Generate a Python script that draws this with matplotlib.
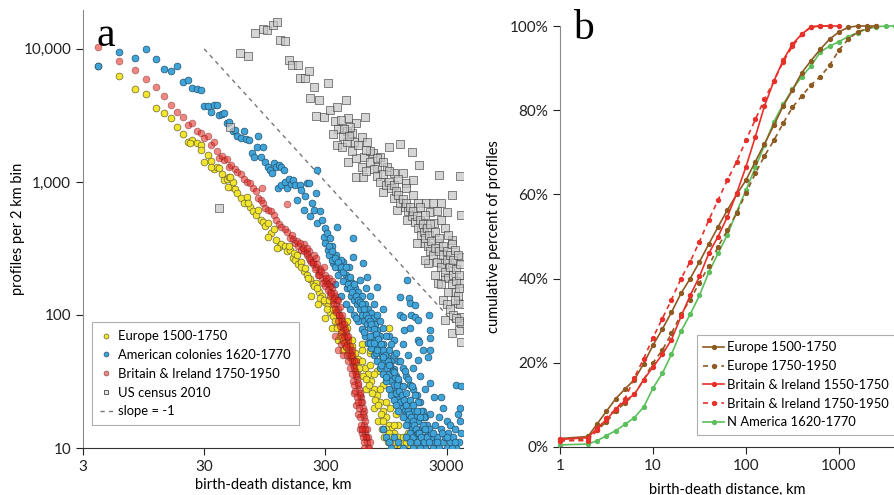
import matplotlib.pyplot as plt
from matplotlib.lines import Line2D
from matplotlib.ticker import FixedLocator, FixedFormatter, NullLocator

plt.rcParams['font.family'] = ['Lato', 'DejaVu Sans']

# ---- panel a: profiles per 2 km bin ----
eu_x = [4, 6, 8, 10, 12, 14, 16, 18, 20, 22, 24, 26, 28, 30, 32, 34, 36, 38, 40, 42,
        44, 46, 48, 50, 52, 54, 56, 60, 64, 68, 72, 76, 80, 84, 88, 92, 96, 100, 106, 112,
        118, 124, 130, 138, 146, 154, 162, 170, 180, 190, 200, 212, 224, 236, 250, 264, 280, 296, 314, 330,
        350, 370, 390, 410, 430, 450, 470, 500, 530, 560, 600, 640, 680, 720, 760, 800, 850, 900, 950, 1000,
        1050, 1100, 1200, 1300, 1400, 1500, 1600, 1800, 600, 700, 800, 900, 1000, 760, 820, 880, 920, 980, 1100, 1250,
        1350, 1450, 1700, 650, 550, 480, 420, 380, 340, 300, 260, 230, 700, 1030, 1150, 1200, 1300, 1900, 2000, 28,
        23, 34, 49, 47, 69, 101, 120]
eu_y = [7500, 6300, 5000, 4600, 3600, 3300, 3000, 2600, 2300, 2000, 2070, 1970, 1900, 1400, 1600, 1440, 1250, 1300, 1270, 1150,
        1030, 1050, 1090, 910, 1000, 880, 820, 760, 700, 770, 650, 600, 565, 620, 520, 500, 470, 490, 415, 440,
        366, 324, 340, 330, 300, 310, 270, 260, 240, 250, 215, 200, 185, 170, 175, 150, 140, 125, 118, 105,
        98, 88, 92, 75, 70, 80, 62, 58, 52, 47, 45, 40, 36, 32, 28, 25, 22, 19, 17, 15,
        14, 13, 12, 11, 11, 10, 11, 10, 60, 52, 38, 30, 80, 20, 16, 14, 12, 11, 10, 10,
        12, 13, 10, 28, 38, 48, 55, 65, 80, 95, 120, 140, 55, 20, 18, 15, 12, 11, 10, 1740,
        1950, 1300, 1090, 910, 700, 385, 320]
eu_x2 = [150, 165, 175, 190, 205, 215, 240, 255, 270, 290, 310, 320, 345, 360, 375, 395, 420, 440, 460, 490,
         520, 540, 570, 610, 650, 690, 730, 770, 810, 860, 900, 950, 1000, 1050, 1150, 1250, 700, 750, 850, 950,
         1100, 600, 500, 450]
eu_y2 = [330, 290, 280, 230, 225, 190, 165, 160, 135, 130, 110, 130, 110, 90, 80, 70, 65, 58, 55, 50,
         45, 42, 40, 35, 33, 30, 26, 23, 21, 18, 16, 14, 13, 12, 11, 10, 42, 36, 28, 22,
         15, 55, 65, 90]

am_x = [4, 6, 8, 10, 12, 14, 16, 18, 20, 22, 24, 26, 28, 30, 32, 34, 36, 38, 40, 42,
        44, 46, 48, 52, 54, 56, 60, 64, 66, 70, 74, 78, 82, 84, 88, 92, 96, 100, 104, 108,
        112, 118, 124, 130, 136, 122, 128, 140, 145, 150, 156, 163, 170, 176, 186, 190, 198, 205, 213, 218,
        225, 232, 241, 250, 258, 258, 270, 280, 290, 300, 310, 318, 330, 340, 350, 365, 377, 390, 400, 420,
        440, 460, 480, 500, 510, 510, 530, 560, 584, 600, 613, 640, 667, 680, 710, 740, 770, 807, 807, 850,
        900, 975, 1000, 1050, 1100, 1150, 1200, 1250, 1250, 1250, 1300, 1340, 1420, 1420, 1470, 1500, 1530, 1640, 1640, 1640,
        1740, 1740, 1740, 1770, 1830, 2100, 2100, 2130, 2180, 2180, 2200, 2200, 2200, 2350, 2680, 3000, 3380, 3600, 3700, 3920,
        3920, 320, 340, 360, 380, 400, 420, 450, 470, 490, 520, 550, 580, 600, 630, 660, 700, 730, 760, 800,
        840, 880, 920, 960, 1000, 1050, 1100, 1150, 1200, 1250, 1300, 1350, 1400, 1450, 1500, 1550, 1600, 1650, 1700, 1750,
        1800, 1900, 2000, 480, 520, 560, 600, 640, 680, 720, 760, 800, 850, 900, 950, 1000, 1050, 1100, 1150,
        1200, 1300, 1400, 1500, 1600, 1700, 1800, 900, 950, 1000, 1050, 1100, 1200, 1300, 1400, 1500, 1600, 1700, 1900, 2000,
        2100, 2200, 2300, 2400, 2500, 2600, 2700, 2800, 2900, 3000, 3100, 3200, 3400, 3600, 3800, 2400, 2600, 2800, 3200, 3500,
        3900, 3900, 1100, 1200, 1300, 1400, 1500, 1600, 1700, 1800, 1900, 2000, 1300, 1450, 1600, 1800, 2000, 1000, 1100, 900,
        750, 700, 650, 900, 1500, 1900, 360, 400, 440, 540, 620, 700, 780, 860, 950, 1150, 1350, 1550, 1750, 1950,
        2250, 2500, 2750, 3050, 3300, 3550]
am_y = [7500, 9500, 8600, 10000, 8400, 7100, 6800, 7400, 5600, 5800, 5100, 5000, 4900, 3700, 3750, 3350, 3800, 3770, 3160, 3230,
        3300, 2750, 2800, 2400, 2450, 2200, 2150, 2400, 2100, 2050, 1650, 1550, 1830, 2200, 1550, 1830, 1400, 1300, 1230, 1170,
        1390, 1300, 1330, 1300, 1230, 900, 950, 1000, 900, 1050, 960, 1030, 950, 730, 950, 870, 620, 780, 980, 980,
        550, 700, 620, 820, 1230, 490, 600, 520, 385, 450, 410, 307, 380, 330, 246, 280, 460, 230, 218, 250,
        200, 190, 193, 175, 272, 380, 160, 150, 183, 140, 246, 120, 193, 110, 103, 95, 85, 162, 77, 70,
        60, 48, 55, 45, 39, 35, 32, 29, 136, 100, 97, 77, 22, 183, 134, 123, 100, 119, 97, 17,
        92, 65, 46, 63, 14, 48, 11, 100, 77, 67, 55, 31, 18, 24, 24, 16, 11, 30, 18, 29,
        13, 280, 260, 230, 200, 260, 180, 160, 230, 140, 130, 120, 110, 100, 90, 85, 80, 70, 65, 60,
        55, 50, 45, 40, 36, 32, 30, 27, 24, 22, 20, 19, 18, 16, 15, 14, 13, 12, 12, 11,
        11, 10, 10, 110, 100, 90, 78, 70, 62, 56, 50, 45, 40, 36, 32, 28, 25, 23, 21,
        19, 17, 15, 13, 12, 11, 10, 14, 12, 11, 10, 12, 11, 10, 12, 11, 10, 13, 12, 11,
        13, 12, 10, 11, 12, 10, 14, 11, 12, 10, 13, 11, 12, 10, 11, 15, 17, 20, 15, 14,
        16, 20, 50, 45, 40, 35, 30, 28, 25, 22, 19, 17, 60, 50, 40, 35, 28, 70, 65, 80,
        120, 140, 160, 110, 80, 55, 170, 140, 120, 95, 75, 62, 52, 42, 34, 26, 22, 19, 16, 14,
        12, 11, 13, 12, 10, 11]
am_x2 = [300, 320, 340, 360, 380, 400, 420, 440, 460, 480, 500, 520, 540, 560, 580, 600, 620, 650, 680, 700,
         720, 750, 780, 820, 860, 900, 940, 980, 1020, 1080, 1120, 1180, 1220, 1280, 1330, 1380, 1430, 1480, 1530, 1580,
         1630, 1680, 1730, 1780, 1850, 1950, 2050, 2150, 2250, 800, 850, 950, 1050, 1150, 1250, 1350, 1450, 1550, 1650, 1750,
         1850, 1950, 2050, 2150, 2300, 700, 750, 800, 900, 1000, 1100, 1200, 1300, 1400, 1500, 1600, 1700, 1800, 1900, 2000]
am_y2 = [350, 330, 300, 270, 250, 230, 210, 230, 170, 160, 150, 170, 140, 130, 125, 120, 110, 100, 95, 90,
         85, 78, 72, 66, 60, 55, 50, 45, 42, 38, 34, 30, 27, 25, 23, 21, 19, 18, 17, 16,
         15, 14, 13, 13, 12, 11, 12, 11, 13, 100, 90, 70, 60, 52, 45, 38, 33, 29, 25, 22,
         19, 17, 15, 14, 13, 70, 62, 55, 48, 42, 37, 33, 29, 26, 23, 21, 19, 17, 15, 14]

bi_x = [4, 6, 8, 10, 12, 14, 16, 18, 20, 22, 24, 26, 28, 30, 32, 34, 36, 38, 40, 42,
        44, 46, 48, 50, 54, 56, 60, 64, 68, 72, 76, 80, 84, 88, 92, 96, 100, 106, 112, 118,
        124, 130, 138, 146, 154, 162, 170, 180, 190, 200, 212, 224, 236, 250, 264, 280, 296, 314, 330, 350,
        370, 390, 410, 430, 450, 470, 490, 510, 530, 550, 570, 590, 610, 620, 630, 640, 650, 660, 670, 200,
        220, 240, 260, 300, 320, 340, 360, 380, 400, 420, 440, 460, 480, 500, 520, 540, 560, 580, 600, 620,
        640, 660, 680, 700, 600, 580, 560, 540, 520, 420, 400, 380, 360, 145, 90, 230, 270, 310, 330, 355,
        375, 395, 415, 435, 455, 475, 495, 515, 535, 555, 575, 595, 615, 635, 655, 690]
bi_y = [10300, 8100, 6900, 5900, 5200, 4400, 3800, 3350, 3050, 2700, 2750, 2400, 2350, 2150, 2200, 1900, 2000, 1700, 1500, 1560,
        1450, 1480, 1300, 1350, 1250, 1190, 1150, 1050, 1000, 980, 900, 860, 760, 730, 700, 640, 620, 600, 560, 520,
        480, 460, 440, 420, 380, 370, 350, 330, 310, 300, 280, 260, 240, 230, 210, 190, 180, 170, 150, 130,
        120, 100, 85, 70, 60, 55, 48, 42, 38, 33, 28, 24, 20, 17, 15, 13, 12, 11, 10, 340,
        300, 280, 200, 200, 190, 160, 140, 110, 95, 80, 75, 65, 52, 45, 40, 35, 30, 25, 22, 19,
        16, 14, 12, 11, 13, 14, 18, 21, 26, 50, 60, 55, 70, 680, 900, 250, 220, 175, 165, 145,
        130, 115, 90, 78, 68, 58, 50, 45, 36, 31, 26, 22, 18, 14, 12, 10]
bi_x2 = [160, 175, 185, 195, 210, 220, 235, 245, 255, 265, 275, 285, 300, 305, 315, 325, 335, 345, 352, 362,
         370, 380, 388, 398, 405, 415, 425, 440, 455, 465, 480, 495, 505, 520, 530, 545, 555, 565, 575, 590,
         600, 610, 620, 630, 540, 500, 460, 430, 410, 380, 340, 290, 250, 210]
bi_y2 = [400, 360, 350, 320, 290, 270, 250, 220, 240, 200, 215, 175, 165, 190, 155, 140, 145, 120, 135, 110,
         105, 90, 100, 82, 75, 68, 62, 57, 50, 45, 40, 36, 32, 30, 27, 24, 22, 20, 17, 15,
         14, 12, 11, 10, 45, 55, 70, 85, 100, 130, 180, 230, 270, 320]

us_x = [40, 49, 59, 69, 79, 91, 99, 110, 120, 127, 140, 149, 160, 180, 186, 205, 218, 225, 241, 250,
        265, 290, 318, 330, 362, 376, 376, 384, 412, 440, 450, 460, 460, 500, 520, 540, 540, 540, 600, 613,
        630, 640, 667, 740, 807, 855, 900, 975, 1000, 1100, 1100, 1160, 1250, 1300, 1390, 1420, 1560, 1600, 1740, 1780,
        1830, 1950, 2040, 2100, 2200, 2350, 2530, 2530, 2600, 2680, 2680, 2800, 2900, 2900, 3000, 3300, 3300, 3300, 3300, 3700,
        3800, 3880, 3920, 3920, 3920, 3920, 3920, 3920, 600, 650, 700, 750, 800, 850, 900, 950, 1000, 1050,
        1100, 1150, 1200, 1250, 1300, 1350, 1400, 1450, 1500, 1550, 1600, 1650, 1700, 1750, 1800, 1850, 1900, 1950, 2000, 2050,
        2100, 2150, 2200, 2250, 2300, 2400, 2500, 2600, 2700, 2800, 2900, 3000, 3100, 3200, 3300, 3400, 3500, 3600, 3700, 3800,
        3900, 700, 800, 900, 1000, 1200, 1400, 1600, 1800, 2000, 2200, 2400, 2600, 2800, 3000, 3200, 3400, 3600, 3800, 2300,
        2500, 2700, 2900, 3100, 3300, 3500, 3700, 3900, 3000, 3200, 3400, 3600, 3800, 3500, 3100, 2700, 2400, 2000, 1700, 500,
        450, 420, 480, 560, 650, 350, 400, 430, 470]
us_y = [640, 2600, 9300, 8900, 13200, 14100, 13900, 15200, 15800, 11600, 11400, 8300, 7600, 7600, 6000, 6000, 6800, 4260, 5200, 3120,
        4100, 3070, 5500, 3460, 2860, 3650, 1890, 2500, 1830, 4110, 2420, 3030, 1410, 2320, 2000, 2770, 1500, 1090, 2160, 1090,
        1550, 3070, 2000, 1660, 1300, 1550, 840, 1300, 1830, 1170, 760, 620, 1940, 1170, 980, 520, 1680, 1030, 690, 1340,
        460, 350, 690, 246, 590, 490, 350, 174, 1120, 690, 246, 129, 193, 92, 590, 800, 366, 246, 73, 123,
        77, 1110, 560, 272, 174, 97, 87, 63, 1300, 1200, 1400, 1250, 1100, 1000, 1150, 950, 1000, 900,
        950, 850, 800, 700, 750, 650, 700, 600, 650, 550, 600, 500, 550, 450, 520, 400, 480, 420, 380, 450,
        330, 400, 300, 360, 280, 320, 250, 300, 230, 280, 210, 260, 190, 230, 170, 200, 150, 180, 140, 160,
        120, 1700, 1500, 1400, 1200, 1050, 900, 800, 650, 560, 480, 420, 380, 330, 300, 280, 260, 220, 200, 700,
        600, 520, 450, 400, 340, 310, 280, 240, 120, 110, 100, 95, 90, 130, 150, 170, 200, 260, 350, 1700,
        2000, 2200, 2600, 1900, 1750, 2300, 2900, 2500, 2200]

slope_x = [30, 3500]
slope_y = [10000, 86]

# ---- panel b: cumulative percent of profiles ----
bins = [1, 2, 2.51, 3.16, 3.98, 5.01, 6.31, 7.94, 10, 12.6, 15.8, 20, 25.1, 31.6, 39.8, 50.1, 63.1, 79.4,
        100, 126, 158, 200, 251, 316, 398, 501, 631, 794, 1000, 1259, 1585, 1995, 2512, 3162, 3981]
eu_early = [2.0, 2.5, 5.5, 8.5, 11.5, 13.8, 16.0, 19.8, 24.2, 28.0, 32.0, 36.5, 40.0, 44.0, 48.2, 52.3, 56.3,
            60.0, 63.4, 67.8, 72.0, 76.5, 81.0, 84.8, 88.9, 91.8, 94.5, 96.9, 98.6, 99.7, 100, 100, 100]
eu_late = [1.5, 1.8, 4.0, 6.0, 8.5, 10.5, 12.5, 16.0, 20.0, 23.0, 27.0, 31.5, 35.0, 39.0, 43.0, 47.6, 51.5,
           55.6, 60.3, 65.0, 69.1, 72.9, 76.9, 80.7, 83.4, 86.0, 88.0, 90.7, 94.3, 96.9, 98.6, 99.4, 100]
bi_early = [1.8, 2.2, 4.5, 6.5, 9.0, 11.0, 12.5, 16.0, 19.0, 22.0, 25.5, 31.0, 36.0, 40.5, 46.0, 50.0, 54.7,
            60.3, 66.6, 73.7, 81.0, 87.0, 91.9, 95.7, 98.1, 99.8, 100, 100]
bi_late = [1.5, 1.5, 4.0, 7.0, 9.0, 11.5, 16.5, 21.0, 26.0, 30.5, 35.0, 40.0, 44.0, 48.8, 53.9, 58.7, 63.4,
           67.8, 72.9, 77.8, 82.6, 87.0, 91.5, 95.2, 98.0, 99.8, 100, 100, 100]
n_am = [0.5, 0.7, 1.5, 2.7, 3.9, 5.4, 7.0, 9.5, 14.0, 17.5, 22.0, 27.5, 31.5, 36.0, 41.5, 46.0, 50.4, 55.9,
        61.0, 66.4, 71.7, 77.3, 81.4, 85.0, 88.0, 90.5, 93.9, 95.2, 96.3, 97.5, 98.4, 99.3, 99.8, 100, 100]

fig = plt.figure(figsize=(8.94, 4.95), dpi=100)
axa = fig.add_axes([83 / 894, 47 / 495, 380 / 894, 438 / 495])
axb = fig.add_axes([560 / 894, 48 / 495, 334 / 894, 421 / 495])

# panel a
axa.set_xscale('log')
axa.set_yscale('log')
axa.scatter(eu_x + eu_x2, eu_y + eu_y2, s=24, c='#f2e62c', edgecolors='#6b6432', linewidths=0.5, zorder=2)
axa.scatter(am_x + am_x2, am_y + am_y2, s=24, c='#3ea4da', edgecolors='#25506b', linewidths=0.5, zorder=3)
axa.scatter(bi_x + bi_x2, bi_y + bi_y2, s=24, c='#e2231c', alpha=0.55, edgecolors='#6b1d1d', linewidths=0.5,
            zorder=4)
axa.scatter(us_x, us_y, s=28, marker='s', c='#c4c4c4', alpha=0.7, edgecolors='#3a3a3a', linewidths=0.6, zorder=5)
axa.plot(slope_x, slope_y, color='#777777', ls=(0, (3, 3)), lw=1.0, zorder=1)

axa.set_xlim(3, 4100)
axa.set_ylim(10, 19600)
axa.xaxis.set_major_locator(FixedLocator([3, 30, 300, 3000]))
axa.xaxis.set_major_formatter(FixedFormatter(['3', '30', '300', '3000']))
axa.yaxis.set_major_locator(FixedLocator([10, 100, 1000, 10000]))
axa.yaxis.set_major_formatter(FixedFormatter(['10', '100', '1,000', '10,000']))
axa.xaxis.set_minor_locator(NullLocator())
axa.yaxis.set_minor_locator(NullLocator())
for s in ['top', 'right']:
    axa.spines[s].set_visible(False)
axa.spines['left'].set_color('#8a8a8a')
axa.spines['bottom'].set_color('#333333')
axa.tick_params(labelsize=11, length=5, colors='#222222')
axa.set_xlabel('birth-death distance, km', fontsize=10.5, labelpad=3)
axa.set_ylabel('profiles per 2 km bin', fontsize=10.5, labelpad=-1)
axa.text(0.035, 0.985, 'a', transform=axa.transAxes, fontsize=30, family='Liberation Serif',
         va='top', ha='left')

handles_a = [
    Line2D([], [], ls='none', marker='o', ms=3.5, mfc='#f2e62c', mec='#6b6432', mew=0.5),
    Line2D([], [], ls='none', marker='o', ms=3.5, mfc='#3ea4da', mec='#25506b', mew=0.5),
    Line2D([], [], ls='none', marker='o', ms=3.5, mfc='#ee8a86', mec='#8a4a4a', mew=0.5),
    Line2D([], [], ls='none', marker='s', ms=3.5, mfc='#e6e6e6', mec='#444444', mew=0.6),
    Line2D([], [], color='#777777', ls=(0, (3, 3)), lw=1.0),
]
labels_a = ['Europe 1500-1750', 'American colonies 1620-1770', 'Britain & Ireland 1750-1950',
            'US census 2010', 'slope = -1']
lga = axa.legend(handles_a, labels_a, loc='lower left', bbox_to_anchor=(0.024, 0.052), borderaxespad=0,
                 fontsize=9.4, frameon=True, fancybox=False, edgecolor='#9a9a9a', handlelength=1.0,
                 handletextpad=0.4, labelspacing=0.52, borderpad=0.6)
lga.get_frame().set_linewidth(0.8)

# panel b
axb.set_xscale('log')
brown = '#8e5a22'
red = '#e8302a'
green = '#5cbf5c'
axb.plot(bins[:len(eu_early)], [v / 100 for v in eu_early], color=brown, lw=1.2, marker='o', ms=2.8,
         clip_on=False, zorder=3)
axb.plot(bins[:len(eu_late)], [v / 100 for v in eu_late], color=brown, lw=1.2, ls=(0, (3, 2.5)), marker='o',
         ms=2.8, clip_on=False, zorder=3)
axb.plot(bins[:len(bi_early)], [v / 100 for v in bi_early], color=red, lw=1.2, marker='o', ms=2.8,
         clip_on=False, zorder=4)
axb.plot(bins[:len(bi_late)], [v / 100 for v in bi_late], color=red, lw=1.2, ls=(0, (3, 2.5)), marker='o',
         ms=2.8, clip_on=False, zorder=4)
axb.plot(bins[:len(n_am)], [v / 100 for v in n_am], color=green, lw=1.2, marker='o', ms=2.8,
         clip_on=False, zorder=2)

axb.set_xlim(1, 3900)
axb.set_ylim(0, 1)
axb.xaxis.set_major_locator(FixedLocator([1, 10, 100, 1000]))
axb.xaxis.set_major_formatter(FixedFormatter(['1', '10', '100', '1000']))
axb.xaxis.set_minor_locator(NullLocator())
axb.yaxis.set_major_locator(FixedLocator([0, 0.2, 0.4, 0.6, 0.8, 1.0]))
axb.yaxis.set_major_formatter(FixedFormatter(['0%', '20%', '40%', '60%', '80%', '100%']))
for s in ['top', 'right']:
    axb.spines[s].set_visible(False)
axb.spines['left'].set_color('#8a8a8a')
axb.spines['bottom'].set_color('#333333')
axb.tick_params(labelsize=11, length=5, colors='#222222')
axb.set_xlabel('birth-death distance, km', fontsize=10.5, labelpad=7)
axb.set_ylabel('cumulative percent of profiles', fontsize=10.5, labelpad=6)
axb.text(0.04, 1.04, 'b', transform=axb.transAxes, fontsize=30, family='Liberation Serif',
         va='top', ha='left')

labels_b = ['Europe 1500-1750', 'Europe 1750-1950', 'Britain & Ireland 1550-1750',
            'Britain & Ireland 1750-1950', 'N America 1620-1770']
lgb = axb.legend(axb.get_lines(), labels_b, loc='lower left', bbox_to_anchor=(0.41, 0.0285), borderaxespad=0,
                 fontsize=9.4, frameon=True, fancybox=False, edgecolor='#9a9a9a', handlelength=1.6,
                 handletextpad=0.2, labelspacing=0.52, borderpad=0.5)
lgb.get_frame().set_linewidth(0.8)

fig.savefig('out.png', dpi=100)
